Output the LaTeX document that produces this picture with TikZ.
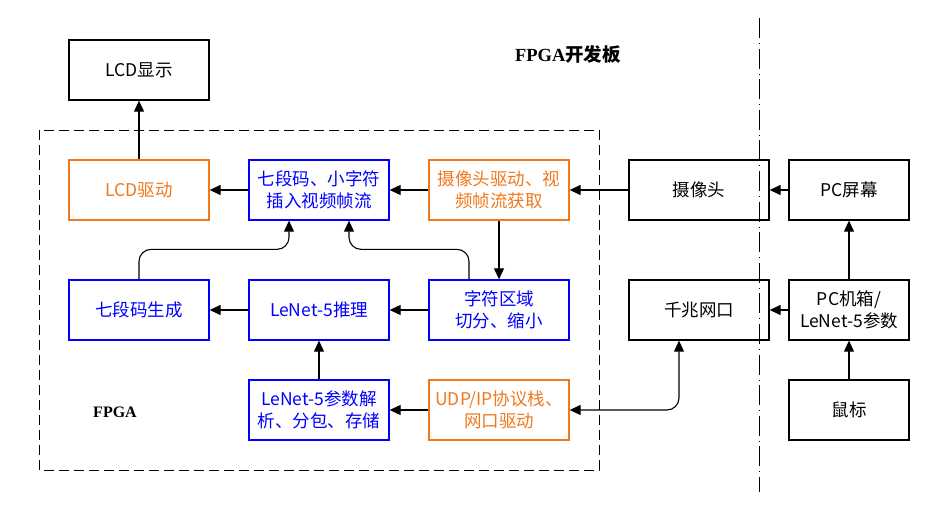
\documentclass[tikz,border=0pt]{standalone}
\usepackage{fontspec}
\setmainfont{Noto Sans CJK SC}
\newfontfamily\headserif{Liberation Serif}
\newfontfamily\cjkbold{Noto Sans CJK SC Bold}
\usetikzlibrary{arrows.meta}
\definecolor{myorange}{RGB}{240,120,30}
\definecolor{myblue}{RGB}{0,0,255}
\tikzset{
  box/.style={draw, line width=1.3pt, minimum width=140pt, minimum height=60pt, inner sep=0pt, align=center, font=\fontsize{17.5}{22}\selectfont},
  sbox/.style={box, minimum width=120pt},
  obox/.style={box, draw=myorange, text=myorange},
  bbox/.style={box, draw=myblue, text=myblue},
  arr/.style={line width=1.1pt, -{Triangle[length=11pt,width=10pt]}},
  biarr/.style={line width=1.1pt, {Triangle[length=11pt,width=10pt]}-{Triangle[length=11pt,width=10pt]}},
}
\begin{document}
\begin{tikzpicture}[x=1pt,y=-1pt]
\useasboundingbox (0,0) rectangle (948,505);
% frames
\draw[line width=0.9pt, dash pattern=on 10pt off 5pt] (39,130) rectangle (599,470);
\draw[line width=0.9pt, dash pattern=on 20pt off 5pt on 0.6pt off 5pt] (759,18) coordinate (vt) -- (759,492) coordinate (vb);
% labels
\node (head) at (568,54) {\fontsize{18.5}{20}\selectfont\headserif\bfseries FPGA\cjkbold 开发板};
\node (fpgalab) at (115,412) {\fontsize{16}{20}\selectfont\headserif\bfseries FPGA};
% nodes
\node[box]  (lcdshow) at (139,70)  {LCD显示};
\node[obox] (lcddrv)  at (139,190) {LCD驱动};
\node[bbox] (insert)  at (319,190) {七段码、小字符\\插入视频帧流};
\node[obox] (camdrv)  at (499,190) {摄像头驱动、视\\频帧流获取};
\node[box]  (cam)     at (699,190) {摄像头};
\node[sbox] (screen)  at (849,190) {PC屏幕};
\node[bbox] (segen)   at (139,310) {七段码生成};
\node[bbox] (lenet)   at (319,310) {LeNet-5推理};
\node[bbox] (charreg) at (499,310) {字符区域\\切分、缩小};
\node[box]  (gige)    at (699,310) {千兆网口};
\node[sbox] (pcbox)   at (849,310) {PC机箱/\\LeNet-5参数};
\node[bbox] (param)   at (319,410) {LeNet-5参数解\\析、分包、存储};
\node[obox] (udp)     at (499,410) {UDP/IP协议栈、\\网口驱动};
\node[sbox] (mouse)   at (849,410) {鼠标};
% connectors
\draw[arr] (lcddrv.north) -- (lcdshow.south);
\draw[arr] (insert.west) -- (lcddrv.east);
\draw[arr] (camdrv.west) -- (insert.east);
\draw[arr] (cam.west) -- (camdrv.east);
\draw[arr] (screen.west) -- (cam.east);
\draw[arr] (camdrv.south) -- (charreg.north);
\draw[arr, rounded corners=12pt] (segen.north) -- ++(0,-30) -| ([xshift=-30pt]insert.south);
\draw[arr, rounded corners=12pt] ([xshift=-30pt]charreg.north) -- ++(0,-30) -| ([xshift=30pt]insert.south);
\draw[arr] (charreg.west) -- (lenet.east);
\draw[arr] (lenet.west) -- (segen.east);
\draw[arr] (pcbox.west) -- (gige.east);
\draw[arr] (pcbox.north) -- (screen.south);
\draw[arr] (mouse.north) -- (pcbox.south);
\draw[arr] (param.north) -- (lenet.south);
\draw[arr] (udp.west) -- (param.east);
\draw[biarr, rounded corners=12pt] (udp.east) -| ([xshift=-20pt]gige.south);
\end{tikzpicture}
\end{document}
